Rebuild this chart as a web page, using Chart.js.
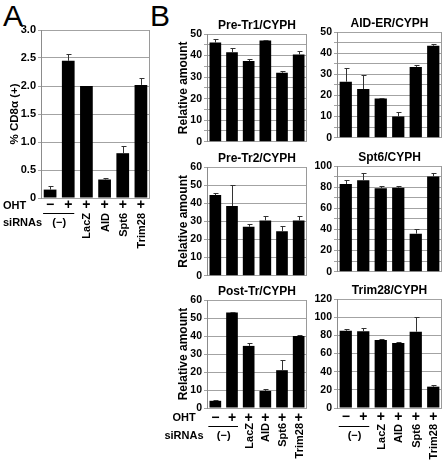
<!DOCTYPE html>
<html>
<head>
<meta charset="utf-8">
<script src="https://cdn.jsdelivr.net/npm/chart.js@4/dist/chart.umd.min.js"></script>
<style>
  body { margin: 0; background: #fff; width: 444px; height: 460px; position: relative; overflow: hidden;
         font-family: "Liberation Sans", Arial, sans-serif; }
  canvas { position: absolute; }
  .letter { position: absolute; top: 1px; font-size: 30px; line-height: 30px; }
</style>
</head>
<body>
<div class="letter" style="left:3px">A</div>
<div class="letter" style="left:150px">B</div>

<script>
// categories and row labels under the bottom charts
const groups = ['−', '+', 'LacZ', 'AID', 'Spt6', 'Trim28'];
const ohtSigns = ['−', '+', '+', '+', '+', '+'];
const sirnaNames = ['(−)', '(−)', 'LacZ', 'AID', 'Spt6', 'Trim28'];

// panel A
const cd8Values = [0.15, 2.45, 2.0, 0.33, 0.8, 2.02];
const cd8Errors = [0.07, 0.12, 0, 0.02, 0.13, 0.13];

// panel B, relative amounts
const preTr1Values = [46, 41.5, 37.5, 47, 32, 40.5];
const preTr1Errors = [1.5, 2, 1, 0.3, 1, 1.5];
const aidErValues = [26.5, 23, 18.5, 10, 33.5, 43.5];
const aidErErrors = [6.5, 6.5, 0.5, 2, 1, 1];
const preTr2Values = [44.5, 38.5, 27, 30.5, 24.5, 30.5];
const preTr2Errors = [1, 11.5, 1.5, 2.5, 3, 2.5];
const spt6Values = [83, 86.5, 79, 79.5, 36, 90];
const spt6Errors = [3.5, 7, 2.5, 2, 4, 3];
const postTrValues = [4, 53, 34.5, 9.5, 21, 40];
const postTrErrors = [0.5, 0.5, 1.5, 1, 5.5, 0.5];
const trim28Values = [85, 84.5, 75, 71.5, 84, 23.5];
const trim28Errors = [1.5, 3.5, 1, 1.5, 16, 1.5];

const FONT = '"Liberation Sans", Arial, sans-serif';

const extras = {
  id: 'extras',
  beforeDatasetsDraw(chart) {
    const { ctx, chartArea: a } = chart;
    ctx.save();
    ctx.strokeStyle = '#9a9a9a';
    ctx.lineWidth = 1;
    ctx.beginPath();
    ctx.moveTo(Math.round(a.right) - 0.5, a.top);
    ctx.lineTo(Math.round(a.right) - 0.5, a.bottom);
    ctx.stroke();
    ctx.restore();
  },
  afterDatasetsDraw(chart, args, o) {
    const { ctx, scales: { y } } = chart;
    const meta = chart.getDatasetMeta(0);
    const vals = chart.data.datasets[0].data;
    ctx.save();
    ctx.strokeStyle = '#333';
    ctx.lineWidth = 1;
    o.errors.forEach((e, i) => {
      if (!e) return;
      const x = Math.round(meta.data[i].x) + 0.5;
      const y0 = meta.data[i].y;
      const y1 = Math.round(y.getPixelForValue(vals[i] + e)) + 0.5;
      ctx.beginPath();
      ctx.moveTo(x, y0);
      ctx.lineTo(x, y1);
      ctx.moveTo(x - 2, y1);
      ctx.lineTo(x + 3, y1);
      ctx.stroke();
    });
    ctx.restore();
  },
  afterDraw(chart, args, o) {
    const { ctx, chartArea: a, scales: { x } } = chart;
    ctx.save();
    ctx.fillStyle = '#000';
    ctx.textBaseline = 'middle';
    if (o.title) {
      ctx.font = 'bold 12px ' + FONT;
      ctx.textAlign = 'center';
      ctx.fillText(o.title, (a.left + a.right) / 2, a.top - 8);
    }
    const r = o.rows;
    if (r) {
      const cx = i => x.getPixelForValue(i);
      ctx.textAlign = 'center';
      ctx.font = 'bold 14px ' + FONT;
      ohtSigns.forEach((s, i) => ctx.fillText(s, cx(i), a.bottom + r.signDy));
      ctx.strokeStyle = '#000';
      ctx.lineWidth = 1;
      ctx.beginPath();
      ctx.moveTo(cx(0) - 7, Math.round(a.bottom + r.lineDy) + 0.5);
      ctx.lineTo(cx(1) + 6, Math.round(a.bottom + r.lineDy) + 0.5);
      ctx.stroke();
      ctx.font = 'bold 11px ' + FONT;
      ctx.fillText(sirnaNames[0], (cx(0) + cx(1)) / 2, a.bottom + r.sirnaDy);
      for (let i = 2; i < sirnaNames.length; i++) {
        ctx.save();
        ctx.translate(cx(i) + 1, a.bottom + r.rotDy);
        ctx.rotate(-Math.PI / 2);
        ctx.textAlign = 'right';
        ctx.fillText(sirnaNames[i], 0, 0);
        ctx.restore();
      }
      if (r.rowX !== undefined) {
        ctx.textAlign = r.rowAlign;
        ctx.fillText('OHT', a.left + r.rowX, a.bottom + r.signDy);
        ctx.fillText('siRNAs', a.left + r.rowX, a.bottom + r.sirnaDy);
      }
    }
    ctx.restore();
  }
};

function makeChart(p) {
  const c = document.createElement('canvas');
  const top = p.plot[1] - 16;
  const bottom = p.bottomPad ? p.plot[3] + p.bottomPad : p.plot[3] + 7;
  const width = p.plot[2] + 2 - p.canvasLeft;
  const height = bottom - top;
  c.width = width;
  c.height = height;
  c.style.left = p.canvasLeft + 'px';
  c.style.top = top + 'px';
  c.style.width = width + 'px';
  c.style.height = height + 'px';
  document.body.appendChild(c);

  new Chart(c, {
    type: 'bar',
    data: {
      labels: groups,
      datasets: [{
        data: p.values,
        backgroundColor: '#000',
        borderWidth: 0,
        barPercentage: 0.7,
        categoryPercentage: 1
      }]
    },
    options: {
      responsive: false,
      animation: false,
      devicePixelRatio: 1,
      layout: { padding: { left: p.scaleLeft - p.canvasLeft, top: 16, right: 2, bottom: bottom - p.plot[3] } },
      plugins: {
        legend: { display: false },
        tooltip: { enabled: false },
        extras: { errors: p.errors, title: p.title, rows: p.rows }
      },
      scales: {
        x: { display: false },
        y: {
          min: 0,
          max: p.max,
          afterFit: s => { s.width = p.plot[0] - p.scaleLeft; },
          grid: { color: '#a3a3a3', tickLength: 3, drawTicks: true },
          border: { color: '#8c8c8c' },
          ticks: {
            stepSize: p.step,
            autoSkip: false,
            padding: 2,
            color: '#000',
            font: { family: FONT, weight: 'bold', size: p.tickSize || 10.5 },
            callback: p.tickLabel
          },
          title: {
            display: !!p.yTitle,
            text: p.yTitle,
            color: '#000',
            padding: 0,
            font: { family: FONT, weight: 'bold', size: p.yTitleSize || 12 }
          }
        }
      }
    },
    plugins: [extras]
  });
}

const every = n => v => (Math.abs(v % n) < 1e-9 ? v : '');

makeChart({
  values: cd8Values, errors: cd8Errors, max: 3, step: 0.5,
  tickLabel: v => (v === 0 ? '0' : v.toFixed(1)), tickSize: 11,
  yTitle: '% CD8α (+)', yTitleSize: 11.5,
  canvasLeft: 0, scaleLeft: 8, plot: [41, 30, 150, 198], bottomPad: 262,
  rows: { signDy: 7.5, lineDy: 14.5, sirnaDy: 24.5, rotDy: 15, rowX: -38, rowAlign: 'left' }
});
makeChart({
  values: preTr1Values, errors: preTr1Errors, max: 50, step: 5, tickLabel: every(10),
  title: 'Pre-Tr1/CYPH', yTitle: 'Relative amount',
  canvasLeft: 160, scaleLeft: 176, plot: [207, 34, 307, 143]
});
makeChart({
  values: aidErValues, errors: aidErErrors, max: 50, step: 5, tickLabel: every(10),
  title: 'AID-ER/CYPH',
  canvasLeft: 312, scaleLeft: 312, plot: [337, 32, 442, 139]
});
makeChart({
  values: preTr2Values, errors: preTr2Errors, max: 60, step: 10, tickLabel: every(10),
  title: 'Pre-Tr2/CYPH', yTitle: 'Relative amount',
  canvasLeft: 160, scaleLeft: 176, plot: [207, 167, 307, 277]
});
makeChart({
  values: spt6Values, errors: spt6Errors, max: 100, step: 10, tickLabel: every(20),
  title: 'Spt6/CYPH',
  canvasLeft: 312, scaleLeft: 312, plot: [337, 166, 442, 273]
});
makeChart({
  values: postTrValues, errors: postTrErrors, max: 60, step: 10, tickLabel: every(10),
  title: 'Post-Tr/CYPH', yTitle: 'Relative amount',
  canvasLeft: 160, scaleLeft: 176, plot: [207, 300, 307, 408], bottomPad: 52,
  rows: { signDy: 10, lineDy: 17.7, sirnaDy: 28, rotDy: 15, rowX: -23, rowAlign: 'center' }
});
makeChart({
  values: trim28Values, errors: trim28Errors, max: 120, step: 20, tickLabel: every(20),
  title: 'Trim28/CYPH',
  canvasLeft: 312, scaleLeft: 312, plot: [337, 299, 442, 408], bottomPad: 52,
  rows: { signDy: 9.5, lineDy: 18, sirnaDy: 27.5, rotDy: 16 }
});
</script>
</body>
</html>
